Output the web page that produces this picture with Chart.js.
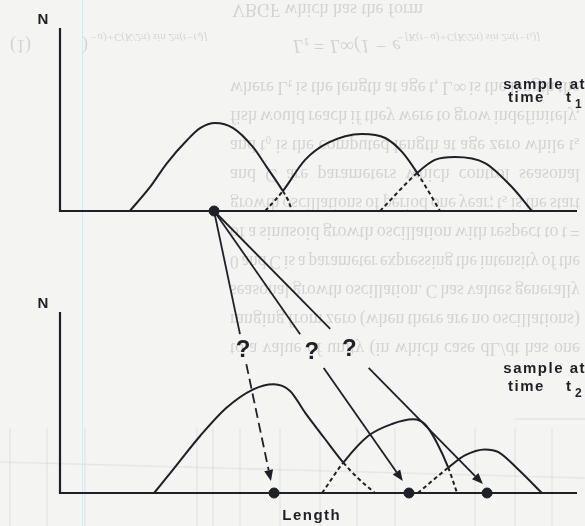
<!DOCTYPE html>
<html>
<head>
<meta charset="utf-8">
<script src="https://cdn.jsdelivr.net/npm/chart.js@4.4.1/dist/chart.umd.min.js"></script>
<style>
  html, body { margin: 0; padding: 0; background: #f4f4f2; }
  #wrap { width: 585px; height: 526px; }
</style>
</head>
<body>
<div id="wrap"><canvas id="growthChart" width="585" height="526"></canvas></div>
<script>
// Length runs 0..100 across both panels, N runs 0..1 on each panel's own axis

// sample at time t1 (upper panel)
const topLen1 = [13.5, 17.4, 20.7, 24.6, 27.1, 30.0, 33.5, 37.3, 40.0, 43.1, 44.1, 44.9];
const topN1   = [0, 0.13, 0.262, 0.388, 0.453, 0.481, 0.453, 0.35, 0.24, 0.109, 0.06, 0];
const topLen2 = [39.7, 43.1, 47.4, 51.8, 58.4, 62.9, 66.2, 69.1, 73.5];
const topN2   = [0, 0.109, 0.279, 0.372, 0.421, 0.399, 0.322, 0.208, 0];
const topLen3 = [61.9, 69.1, 72.5, 76.4, 82.2, 87.4, 91.3];
const topN3   = [0, 0.208, 0.279, 0.295, 0.262, 0.131, 0];
const topDotLen = [29.8];

// sample at time t2 (lower panel)
const botLen1 = [18.2, 21.9, 27.1, 32.2, 37.4, 41.3, 44.5, 47.4, 51.3, 54.8, 57.6, 60.9];
const botN1   = [0, 0.131, 0.315, 0.471, 0.573, 0.601, 0.564, 0.444, 0.297, 0.168, 0.083, 0];
const botLen2 = [50.7, 54.8, 59.6, 64.2, 68.3, 70.6, 72.9, 75.1, 76.8];
const botN2   = [0, 0.168, 0.315, 0.381, 0.407, 0.38, 0.278, 0.14, 0];
const botLen3 = [69.2, 75.1, 78.3, 82.2, 84.8, 88.6, 93.2];
const botN3   = [0, 0.14, 0.208, 0.241, 0.226, 0.131, 0];
const botDotLen = [41.4, 67.5, 82.6];

// where the top mode might have gone
const arrowTipLen = [40.8, 66.3, 81.8];
const arrowTipN   = [0.066, 0.066, 0.05];

// faint text showing through from the back of the page
const bleedLines = [
  'where Lₜ is the length at age t, L∞ is the length the',
  'fish would reach if they were to grow indefinitely,',
  'and t₀ is the computed length at age zero while tₛ',
  'and C are parameters which control seasonal',
  'growth oscillations of period one year; tₛ is the start',
  'of a sinusoid growth oscillation with respect to t =',
  '0 and C is a parameter expressing the intensity of the',
  'seasonal growth oscillation. C has values generally',
  'ranging from zero (when there are no oscillations)',
  'to a value of unity (in which case dL/dt has one'
];

const ink = '#1e2026';

function hump(len, n, axis, dotted) {
  return {
    data: len.map((v, i) => ({ x: v, y: n[i] })),
    yAxisID: axis,
    borderColor: ink,
    borderWidth: 2,
    pointRadius: 0,
    fill: false,
    clip: false,
    cubicInterpolationMode: 'monotone',
    segment: { borderDash: c => dotted.includes(c.p0DataIndex) ? [4, 3] : undefined }
  };
}

function dots(len, axis) {
  return {
    data: len.map(v => ({ x: v, y: 0 })),
    yAxisID: axis,
    showLine: false,
    clip: false,
    pointRadius: 5,
    pointBackgroundColor: ink,
    pointBorderColor: ink
  };
}

function flipped(ctx, text, x0, x1, y, justify) {
  const words = text.split(' ');
  const space = ctx.measureText(' ').width;
  const widths = words.map(w => ctx.measureText(w).width);
  const total = widths.reduce((a, b) => a + b, 0);
  let gap = space, sx = 1;
  if (justify && words.length > 1) {
    gap = (x1 - x0 - total) / (words.length - 1);
    if (gap < space * 0.7) {
      sx = (x1 - x0) / (total + space * 0.7 * (words.length - 1));
      gap = space * 0.7;
    }
  }
  ctx.save();
  ctx.translate(x0, y);
  ctx.scale(sx, -1);
  let x = 0;
  words.forEach((w, i) => { ctx.fillText(w, x, 0); x += widths[i] + gap; });
  ctx.restore();
}

const showThrough = {
  id: 'showThrough',
  beforeDraw(chart) {
    const ctx = chart.ctx;
    ctx.save();
    ctx.fillStyle = '#f4f4f2';
    ctx.fillRect(0, 0, chart.width, chart.height);
    // scanner streak
    ctx.strokeStyle = 'rgba(140,215,225,0.3)';
    ctx.lineWidth = 1;
    ctx.beginPath(); ctx.moveTo(82.5, 0); ctx.lineTo(82.5, chart.height); ctx.stroke();
    // figure printed on the back
    ctx.strokeStyle = 'rgba(120,120,120,0.1)';
    ctx.lineWidth = 1.5;
    [10, 47, 85, 197, 213, 240, 280, 320, 357, 395, 475, 515, 552].forEach(x => {
      ctx.beginPath(); ctx.moveTo(x, 428); ctx.lineTo(x, 526); ctx.stroke();
    });
    ctx.beginPath(); ctx.moveTo(0, 462); ctx.lineTo(585, 478); ctx.stroke();
    ctx.beginPath(); ctx.moveTo(515, 419); ctx.lineTo(585, 419); ctx.stroke();

    ctx.fillStyle = 'rgba(110,110,110,0.24)';
    ctx.textBaseline = 'middle';
    ctx.font = '18px "Liberation Serif", serif';
    flipped(ctx, 'VBGF which has the form', 232, 580, 9, false);
    bleedLines.forEach((t, i) => flipped(ctx, t, 230, 580, 87 + i * 29, true));
    ctx.font = 'italic 19px "Liberation Serif", serif';
    flipped(ctx, 'Lₜ = L∞(1 − e', 293, 580, 45, false);
    ctx.font = '18px "Liberation Serif", serif';
    flipped(ctx, '(1)', 10, 580, 45, false);
    flipped(ctx, ')', 82, 580, 45, false);
    ctx.font = 'italic 11px "Liberation Serif", serif';
    flipped(ctx, '−[K(t−a)+C(K/2π) sin 2π(t−tₛ)]', 397, 600, 37, false);
    flipped(ctx, '−a)+C(K/2π) sin 2π(t−tₛ)]', 90, 300, 37, false);
    ctx.restore();
  }
};

const panelAxes = {
  id: 'panelAxes',
  beforeDatasetsDraw(chart) {
    const { ctx, scales } = chart;
    const x = scales.x;
    ctx.save();
    ctx.strokeStyle = ink;
    ctx.lineWidth = 2.2;
    ctx.fillStyle = ink;
    ctx.font = 'bold 15px "Liberation Sans", Arial, sans-serif';
    ctx.textAlign = 'center';
    ctx.textBaseline = 'middle';
    ['yTop', 'yBot'].forEach(id => {
      const y = scales[id];
      const x0 = x.getPixelForValue(0), xr = x.getPixelForValue(100);
      const yb = y.getPixelForValue(0), yt = y.getPixelForValue(1);
      ctx.beginPath();
      ctx.moveTo(x0, yt); ctx.lineTo(x0, yb); ctx.lineTo(xr, yb);
      ctx.stroke();
      ctx.fillText('N', x0 - 17, yt - 8);
    });
    ctx.restore();
  }
};

const arrows = {
  id: 'arrows',
  afterDatasetsDraw(chart, args, opts) {
    const { ctx, scales: { x, yTop, yBot } } = chart;
    const fx = x.getPixelForValue(topDotLen[0]), fy = yTop.getPixelForValue(0);
    arrowTipLen.forEach((len, i) => {
      const tx = x.getPixelForValue(len), ty = yBot.getPixelForValue(arrowTipN[i]);
      const [g0, g1] = opts.gaps[i];
      const at = t => [fx + (tx - fx) * t, fy + (ty - fy) * t];
      const ang = Math.atan2(ty - fy, tx - fx);
      const hl = 11, hw = 4.5;
      const hb = [tx - hl * Math.cos(ang), ty - hl * Math.sin(ang)];
      ctx.save();
      ctx.strokeStyle = ink;
      ctx.fillStyle = ink;
      ctx.lineWidth = 1.8;
      let a = at(0), b = at(g0);
      ctx.beginPath(); ctx.moveTo(a[0], a[1]); ctx.lineTo(b[0], b[1]); ctx.stroke();
      ctx.setLineDash(opts.dash[i]);
      a = at(g1);
      ctx.beginPath(); ctx.moveTo(a[0], a[1]); ctx.lineTo(hb[0], hb[1]); ctx.stroke();
      ctx.setLineDash([]);
      ctx.beginPath();
      ctx.moveTo(tx, ty);
      ctx.lineTo(hb[0] + hw * Math.sin(ang), hb[1] - hw * Math.cos(ang));
      ctx.lineTo(hb[0] - hw * Math.sin(ang), hb[1] + hw * Math.cos(ang));
      ctx.closePath();
      ctx.fill();
      const q = at((g0 + g1) / 2);
      ctx.font = 'bold 24px "Liberation Sans Narrow", "Liberation Sans", sans-serif';
      ctx.textAlign = 'center';
      ctx.textBaseline = 'middle';
      ctx.fillText('?', q[0], q[1] + 1);
      ctx.restore();
    });
  }
};

const labels = {
  id: 'labels',
  afterDraw(chart) {
    const { ctx, scales: { x, yTop, yBot } } = chart;
    ctx.save();
    ctx.fillStyle = ink;
    ctx.textBaseline = 'middle';
    ctx.letterSpacing = '1.5px';
    [[yTop, '1', 126, 113], [yBot, '2', 124, 106]].forEach(([y, sub, s1, s2]) => {
      const yb = y.getPixelForValue(0);
      ctx.font = 'bold 15px "Liberation Sans", Arial, sans-serif';
      ctx.textAlign = 'right';
      ctx.fillText('sample at', 586, yb - s1);
      ctx.textAlign = 'left';
      ctx.fillText('time', 508, yb - s2);
      ctx.fillText('t', 566, yb - s2);
      ctx.font = 'bold 12px "Liberation Sans", Arial, sans-serif';
      ctx.fillText(sub, 575, yb - s2 + 7);
    });
    ctx.font = 'bold 15px "Liberation Sans", Arial, sans-serif';
    ctx.textAlign = 'center';
    ctx.fillText('Length', x.getPixelForValue(48.7), yBot.getPixelForValue(0) + 23);
    ctx.restore();
  }
};

new Chart(document.getElementById('growthChart'), {
  type: 'line',
  data: {
    datasets: [
      hump(topLen1, topN1, 'yTop', [9, 10]),
      hump(topLen2, topN2, 'yTop', [0, 7]),
      hump(topLen3, topN3, 'yTop', [0]),
      hump(botLen1, botN1, 'yBot', [9, 10]),
      hump(botLen2, botN2, 'yBot', [0, 7]),
      hump(botLen3, botN3, 'yBot', [0]),
      dots(topDotLen, 'yTop'),
      dots(botDotLen, 'yBot')
    ]
  },
  options: {
    responsive: false,
    animation: false,
    devicePixelRatio: 1,
    layout: { padding: { left: 60, right: 8, top: 28, bottom: 33 } },
    plugins: {
      legend: { display: false },
      tooltip: { enabled: false },
      arrows: {
        gaps: [[0.456, 0.567], [0.456, 0.581], [0.432, 0.575]],
        dash: [[10, 5], [], []]
      }
    },
    scales: {
      x: { type: 'linear', min: 0, max: 100, display: false },
      // upper panel: N 0..1 sits between y=211 and y=28
      yTop: { type: 'linear', min: -1.541, max: 1, display: false },
      // lower panel: N 0..1 sits between y=493 and y=312
      yBot: { type: 'linear', min: 0, max: 2.569, display: false }
    }
  },
  plugins: [showThrough, panelAxes, arrows, labels]
});
</script>
</body>
</html>
